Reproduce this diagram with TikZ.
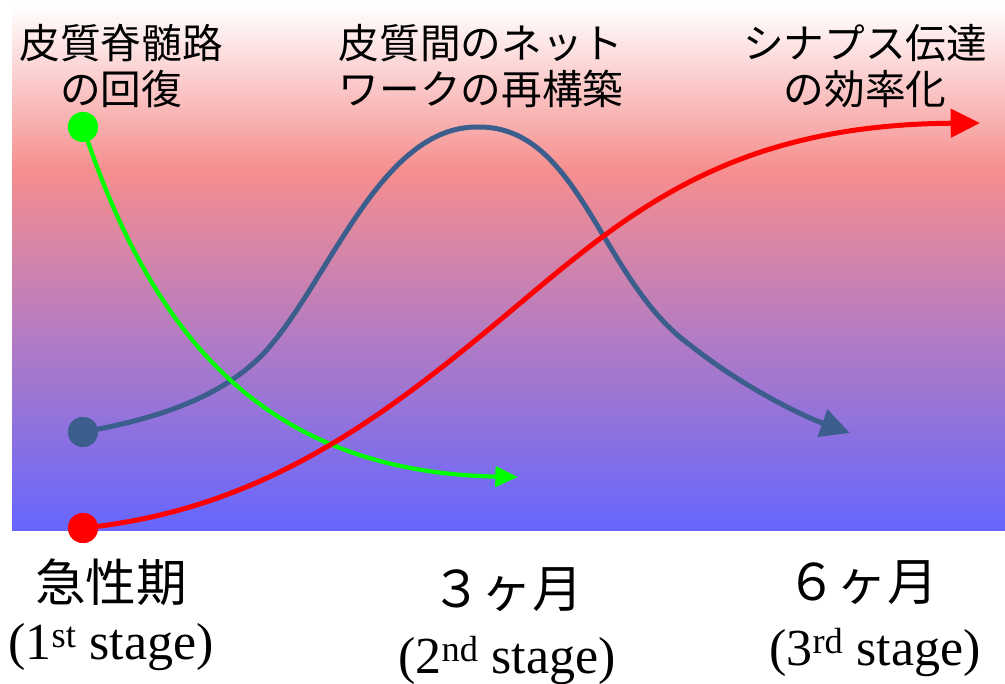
\documentclass[tikz,border=0pt]{standalone}
\usepackage{fontspec}
\setmainfont{Liberation Serif}
\newfontfamily\jp{Noto Sans CJK JP}
\usetikzlibrary{arrows.meta}
\definecolor{bgred}{RGB}{246,142,142}
\definecolor{bgblue}{RGB}{102,102,255}
\definecolor{cblue}{RGB}{59,94,140}
\definecolor{cgreen}{RGB}{0,255,0}
\definecolor{cred}{RGB}{255,0,0}
\begin{document}
\begin{tikzpicture}[x=0.75pt,y=-0.75pt,
  toplab/.style={font=\jp\fontsize{30.5}{35}\selectfont, align=center, inner sep=0pt},
  jplab/.style={font=\jp\fontsize{38}{40}\selectfont, inner sep=0pt},
  stagelab/.style={font=\fontsize{39}{42}\selectfont, inner sep=0pt},
  dot/.style={circle, fill=#1, minimum size=22.5pt, inner sep=0pt},
  curve/.style={line width=3.75pt, draw=#1}]
\useasboundingbox (0,0) rectangle (1005,684);
% background gradient
\fill[top color=white, bottom color=bgred] (12,5) rectangle (1005,171);
\fill[top color=bgred, bottom color=bgblue] (12,170) rectangle (1005,530);
% end coordinates
\coordinate (gend) at (518,477);
\coordinate (bend) at (850,433);
\coordinate (rend) at (980,123);
% dots
\node[dot=cgreen] (g) at (83,127) {};
\node[dot=cblue] (b) at (83,432) {};
\node[dot=cred] (r) at (83,528) {};
% curves
\draw[curve=cblue, -{Triangle[length=22pt,width=21pt]}]
  (b.center) .. controls (150,420) and (220,400) .. (265,352)
  .. controls (330,280) and (380,127) .. (477,127)
  .. controls (580,125) and (600,280) .. (690,345)
  .. controls (740,385) and (800,415) .. (bend);
\draw[curve=cgreen, line width=3.2pt, -{Triangle[length=17pt,width=15pt]}]
  (g.center) .. controls (150,330) and (260,472) .. (gend);
\draw[curve=cred, -{Triangle[length=22pt,width=21pt]}]
  (r.center) .. controls (260,510) and (380,420) .. (500,320)
  .. controls (620,220) and (720,125) .. (rend);
\node[dot=cgreen] at (g) {};
\node[dot=cblue] at (b) {};
\node[dot=cred] at (r) {};
% top labels
\node[toplab] (l1) at (121,66) {皮質脊髄路\\の回復};
\node[toplab] (l2) at (481,66) {皮質間のネット\\ワークの再構築};
\node[toplab] (l3) at (865,66) {シナプス伝達\\の効率化};
% bottom labels
\node[jplab] (t1) at (111,582) {急性期};
\node[stagelab] (s1) at (111,647) {(1\textsuperscript{st} stage)};
\node[jplab] (t2) at (507,590) {３ヶ月};
\node[stagelab] (s2) at (507,660) {(2\textsuperscript{nd} stage)};
\node[jplab] (t3) at (862,583) {６ヶ月};
\node[stagelab] (s3) at (875,652) {(3\textsuperscript{rd} stage)};
\end{tikzpicture}
\end{document}
